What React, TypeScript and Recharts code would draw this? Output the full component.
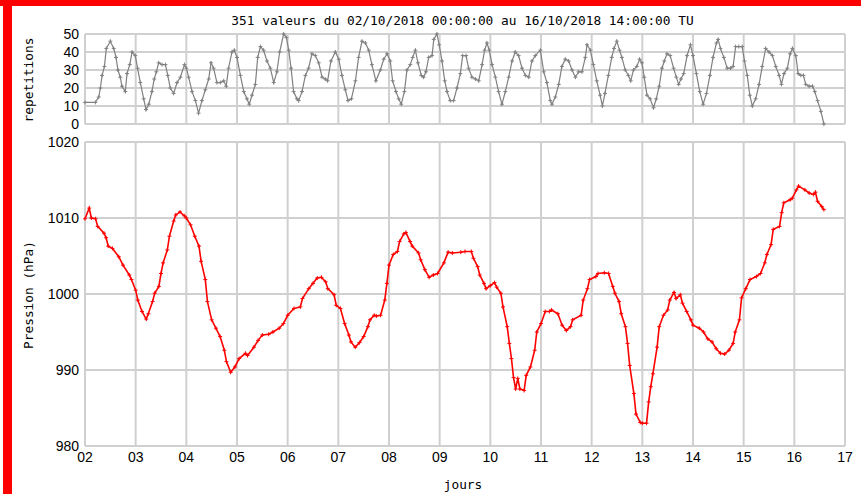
import { LineChart, Line, XAxis, YAxis, CartesianGrid } from "recharts";

// hours since 02/10/2018 00:00 TU
const repHours = [
  0, 4.9, 6.5, 7.3, 8.1, 9.2, 10.1, 12, 13.6, 14.7, 15.6, 16.7, 17.5, 19.1, 19.9, 21.2, 22.3, 23.8, 24.9, 26.2,
  27.8, 28.9, 30.2, 31.7, 32.8, 33.8, 34.9, 36.5, 38.1, 39.2, 40.4, 42, 43.6, 45.2, 47.1, 48, 49.1, 50.7, 52.3, 53.8,
  55.4, 57, 58.6, 59.7, 60.9, 62.5, 64.1, 65.7, 66.9, 68, 69.6, 70.7, 72, 73.6, 75.2, 76.7, 77.8, 79.1, 80.7, 81.8,
  83.1, 84.6, 86.2, 87.8, 89.4, 90.9, 92.2, 94.1, 95.4, 96.5, 97.6, 98.8, 100.4, 101.2, 102.8, 104.4, 105.9, 107.5, 109.1, 110.7,
  112.3, 113.8, 114.9, 116.5, 118.6, 120.2, 121.7, 123.3, 124.6, 126.2, 128.1, 129.6, 131.2, 132.8, 134.4, 135.9, 137.8, 139.9, 141.5, 143.1,
  144.6, 145.7, 147.3, 148.6, 149.8, 151.3, 152.5, 154.1, 155.2, 156.5, 157.7, 159.3, 160.4, 161.5, 162.8, 164.4, 165.2, 166.7, 167.8, 169.1,
  170.4, 171.5, 173, 174.6, 176.2, 177.8, 178.9, 180.5, 181.7, 183.3, 184.9, 186.5, 188.1, 189.3, 190.4, 191.5, 192.8, 194.4, 195.9, 197.5,
  199.1, 200.7, 202.3, 203.8, 205.4, 207, 208.6, 210.2, 211.7, 213.3, 215.7, 217.3, 218.8, 220.4, 221.2, 222.8, 224.4, 225.9, 227.5, 229.1,
  230.7, 232.3, 233.8, 235.4, 237, 237.8, 239.4, 240.8, 242.4, 244, 245.1, 246.3, 247.9, 249.5, 250.6, 251.9, 253.2, 254.3, 255.9, 257.4,
  258.5, 259.8, 261.4, 262.7, 263.8, 264.9, 266.2, 267.7, 269.3, 270.6, 272, 273.3, 274.4, 275.7, 277.2, 278.8, 280.1, 281.2, 282.3, 283.6,
  285.2, 286.8, 288, 289.6, 291.2, 292.8, 294.4, 296, 297.5, 299.1, 299.9, 301, 302.6, 304.2, 305.8, 307, 308.2, 309.7, 311.3, 312.4,
  313.7, 314.9, 316.1, 317.7, 319.3, 320.8, 322.4, 324, 325.6, 327.2, 328.8, 329.9, 331.1, 332.7, 334, 335.1, 336.7, 337.8, 339.1, 340.3,
  341.4, 343, 344.6, 345.7, 347, 348.6, 350,
];
const repValues = [
  12, 12, 15, 20, 27, 32, 42, 46, 42, 37, 30, 26, 21, 18, 28, 33, 40, 38, 31, 23,
  14, 8, 11, 18, 25, 29, 34, 33, 33, 27, 20, 17, 23, 26, 33, 31, 26, 18, 13, 6,
  13, 19, 25, 34, 31, 23, 23, 24, 21, 31, 40, 41, 37, 27, 18, 14, 11, 16, 22, 37,
  43, 41, 35, 31, 23, 29, 40, 50, 48, 41, 31, 18, 14, 13, 18, 27, 31, 39, 38, 34,
  26, 25, 24, 35, 40, 36, 27, 19, 13, 14, 24, 37, 46, 45, 41, 33, 24, 30, 36, 39,
  35, 24, 18, 14, 11, 18, 30, 33, 37, 41, 34, 27, 26, 29, 37, 38, 47, 50, 44, 35,
  24, 18, 13, 13, 20, 28, 38, 38, 31, 26, 25, 24, 33, 41, 45, 41, 33, 26, 18, 11,
  18, 26, 35, 40, 38, 31, 27, 26, 35, 38, 41, 29, 23, 13, 11, 15, 22, 32, 36, 35,
  30, 26, 29, 29, 37, 44, 41, 33, 24, 16, 10, 17, 27, 37, 42, 46, 41, 37, 30, 27,
  24, 30, 32, 36, 34, 26, 16, 14, 9, 14, 21, 31, 35, 39, 38, 31, 26, 22, 25, 28,
  38, 44, 38, 28, 18, 11, 17, 27, 37, 45, 47, 42, 37, 31, 31, 32, 43, 43, 43, 35,
  27, 16, 10, 14, 22, 32, 42, 40, 38, 32, 27, 22, 28, 31, 39, 42, 38, 28, 27, 27,
  22, 21, 21, 18, 13, 7, 0,
];

const presHours = [
  0, 2, 3, 5, 6, 9, 10, 11, 13, 16, 18, 21, 22, 24, 25, 27, 29, 30, 32, 33,
  35, 36, 37, 39, 40, 42, 43, 45, 47, 48, 50, 52, 54, 55, 57, 58, 60, 62, 64, 66,
  67, 69, 71, 73, 76, 77, 80, 82, 84, 87, 89, 92, 94, 96, 99, 102, 103, 106, 108, 110,
  112, 114, 115, 118, 119, 121, 123, 125, 126, 128, 130, 132, 134, 135, 137, 138, 140, 142, 143, 144,
  146, 148, 149, 151, 152, 154, 155, 158, 159, 161, 163, 165, 167, 170, 172, 174, 178, 180, 183, 184,
  186, 187, 189, 190, 192, 194, 195, 197, 198, 200, 201, 202, 203, 204, 205, 206, 208, 209, 211, 213,
  214, 216, 218, 220, 221, 224, 226, 228, 230, 231, 235, 236, 238, 239, 242, 243, 246, 248, 250, 251,
  253, 254, 256, 257, 258, 260, 261, 263, 264, 266, 267, 268, 269, 271, 272, 274, 276, 277, 279, 280,
  282, 283, 285, 287, 288, 291, 293, 295, 297, 299, 301, 303, 305, 307, 308, 310, 311, 313, 315, 318,
  320, 322, 323, 325, 326, 329, 330, 331, 334, 335, 337, 338, 341, 343, 345, 346, 347, 349, 350,
];
const presValues = [
  1009.9, 1011.3, 1010, 1009.9, 1008.9, 1008, 1007.4, 1006.3, 1006, 1004.9, 1003.8, 1002.5, 1001.9, 1000.5, 999.2, 997.7, 996.7, 997.4, 999, 1000.1,
  1001, 1002.7, 1004.1, 1005.8, 1007.6, 1009.6, 1010.4, 1010.8, 1010.3, 1010, 1009.1, 1007.6, 1006.3, 1004.3, 1001.9, 999, 996.6, 995.5, 994.4, 992.6,
  991.1, 989.7, 990.4, 991.5, 992.2, 991.9, 993, 993.9, 994.6, 994.7, 995, 995.5, 996.1, 997.2, 998.1, 998.3, 999.4, 1000.7, 1001.4, 1002.1,
  1002.2, 1001.6, 1000.7, 999.9, 998.5, 998.1, 996.1, 994.6, 993.7, 993, 993.6, 994.4, 995.7, 996.6, 997.2, 997.1, 997.2, 999.2, 1001.4, 1003.8,
  1005.2, 1005.6, 1006.9, 1007.9, 1008.1, 1006.9, 1006.3, 1005.4, 1004.5, 1003.2, 1002.2, 1002.5, 1002.7, 1004.1, 1005.5, 1005.4, 1005.5, 1005.6, 1005.6, 1004.7,
  1003.6, 1002.5, 1001.4, 1000.7, 1001.1, 1001.5, 1000.9, 1000.1, 998.3, 995.7, 993.5, 991.5, 989, 987.5, 988.9, 987.5, 987.3, 989.3, 990.4, 992.6,
  995, 996.1, 997.7, 997.7, 997.9, 997.4, 995.9, 995.2, 995.7, 996.6, 997.2, 999.2, 1000.7, 1001.9, 1002.3, 1002.7, 1002.8, 1002.7, 1001, 1000.1,
  999, 997.4, 995.7, 993.5, 990.6, 986.9, 984.2, 983.1, 983, 983, 985.8, 987.8, 989.5, 993, 995.7, 997.2, 997.9, 999.2, 1000.2, 999.4,
  999.9, 998.8, 997.7, 996.6, 995.9, 995.5, 995, 994.1, 993.7, 992.8, 992.2, 992.1, 992.6, 993.5, 995, 996.6, 999.5, 1000.7, 1001.9, 1002.3,
  1002.7, 1004.1, 1005.2, 1006.5, 1008.5, 1008.9, 1010.7, 1012, 1012.4, 1012.6, 1013.7, 1014.2, 1013.7, 1013.3, 1013.1, 1013.4, 1012.2, 1011.5, 1011.1,
];

const dayTicks = [2, 3, 4, 5, 6, 7, 8, 9, 10, 11, 12, 13, 14, 15, 16, 17];
const repTicks = [0, 10, 20, 30, 40, 50];
const presTicks = [980, 990, 1000, 1010, 1020];

const repData = repHours.map((h, i) => ({ t: 2 + h / 24, v: repValues[i] }));
const presData = presHours.map((h, i) => ({ t: 2 + h / 24, p: presValues[i] }));

const tickStyle = { fill: "#000", fontSize: 14, fontFamily: "Liberation Sans, Arial, sans-serif" };
const mono = "DejaVu Sans Mono, monospace";

const cross = (color: string) => (props: any) => {
  const { cx, cy, index } = props;
  if (cx == null || cy == null) return <g key={index} />;
  return (
    <path
      key={index}
      d={`M${cx - 2},${cy}h4M${cx},${cy - 2}v4`}
      stroke={color}
      strokeWidth={1}
      fill="none"
    />
  );
};

export default function App() {
  return (
    <div
      style={{
        position: "absolute",
        left: 0,
        top: 0,
        width: 861,
        height: 494,
        background: "#fff",
        overflow: "hidden",
      }}
    >
      {/* red frame */}
      <div style={{ position: "absolute", left: 0, top: 0, width: 861, height: 6, background: "#ff0000" }} />
      <div style={{ position: "absolute", left: 3, top: 0, width: 9, height: 494, background: "#ff0000" }} />

      <div
        style={{
          position: "absolute",
          left: 0,
          top: 14,
          width: 925,
          textAlign: "center",
          fontFamily: mono,
          fontSize: 12.8,
          lineHeight: "14px",
        }}
      >
        351 valeurs du 02/10/2018 00:00:00 au 16/10/2018 14:00:00 TU
      </div>

      {/* top: repetitions */}
      <div style={{ position: "absolute", left: 0, top: 0 }}>
        <LineChart width={861} height={135} data={repData} margin={{ top: 34, right: 16, bottom: 11, left: 0 }}>
          <CartesianGrid stroke="#d0d0d0" strokeWidth={2} />
          <XAxis type="number" dataKey="t" domain={[2, 17]} ticks={dayTicks} hide />
          <YAxis
            type="number"
            domain={[0, 50]}
            ticks={repTicks}
            width={85}
            axisLine={false}
            tickLine={false}
            tickSize={4}
            tick={tickStyle}
            interval={0}
          />
          <Line
            type="linear"
            dataKey="v"
            stroke="#808080"
            strokeWidth={1.2}
            dot={cross("#808080")}
            activeDot={false}
            isAnimationActive={false}
          />
        </LineChart>
      </div>

      {/* bottom: pressure */}
      <div style={{ position: "absolute", left: 0, top: 0 }}>
        <LineChart width={861} height={494} data={presData} margin={{ top: 142, right: 16, bottom: 18, left: 0 }}>
          <CartesianGrid stroke="#d0d0d0" strokeWidth={2} />
          <XAxis
            type="number"
            dataKey="t"
            domain={[2, 17]}
            ticks={dayTicks}
            height={30}
            axisLine={false}
            tickLine={false}
            tickSize={4}
            tick={tickStyle}
            interval={0}
            tickFormatter={(d: number) => String(d).padStart(2, "0")}
          />
          <YAxis
            type="number"
            domain={[980, 1020]}
            ticks={presTicks}
            width={85}
            axisLine={false}
            tickLine={false}
            tickSize={4}
            tick={tickStyle}
            interval={0}
          />
          <Line
            type="linear"
            dataKey="p"
            stroke="#ff0000"
            strokeWidth={1.6}
            dot={cross("#ff0000")}
            activeDot={false}
            isAnimationActive={false}
          />
        </LineChart>
      </div>

      {/* axis titles */}
      <div
        style={{
          position: "absolute",
          left: 28,
          top: 80,
          transform: "translate(-50%, -50%) rotate(-90deg)",
          fontFamily: mono,
          fontSize: 12.8,
          whiteSpace: "nowrap",
        }}
      >
        repetitions
      </div>
      <div
        style={{
          position: "absolute",
          left: 28,
          top: 295,
          transform: "translate(-50%, -50%) rotate(-90deg)",
          fontFamily: mono,
          fontSize: 12.8,
          whiteSpace: "nowrap",
        }}
      >
        Pression (hPa)
      </div>
      <div
        style={{
          position: "absolute",
          left: 463,
          top: 484,
          transform: "translate(-50%, -50%)",
          fontFamily: mono,
          fontSize: 12.8,
          whiteSpace: "nowrap",
        }}
      >
        jours
      </div>
    </div>
  );
}
